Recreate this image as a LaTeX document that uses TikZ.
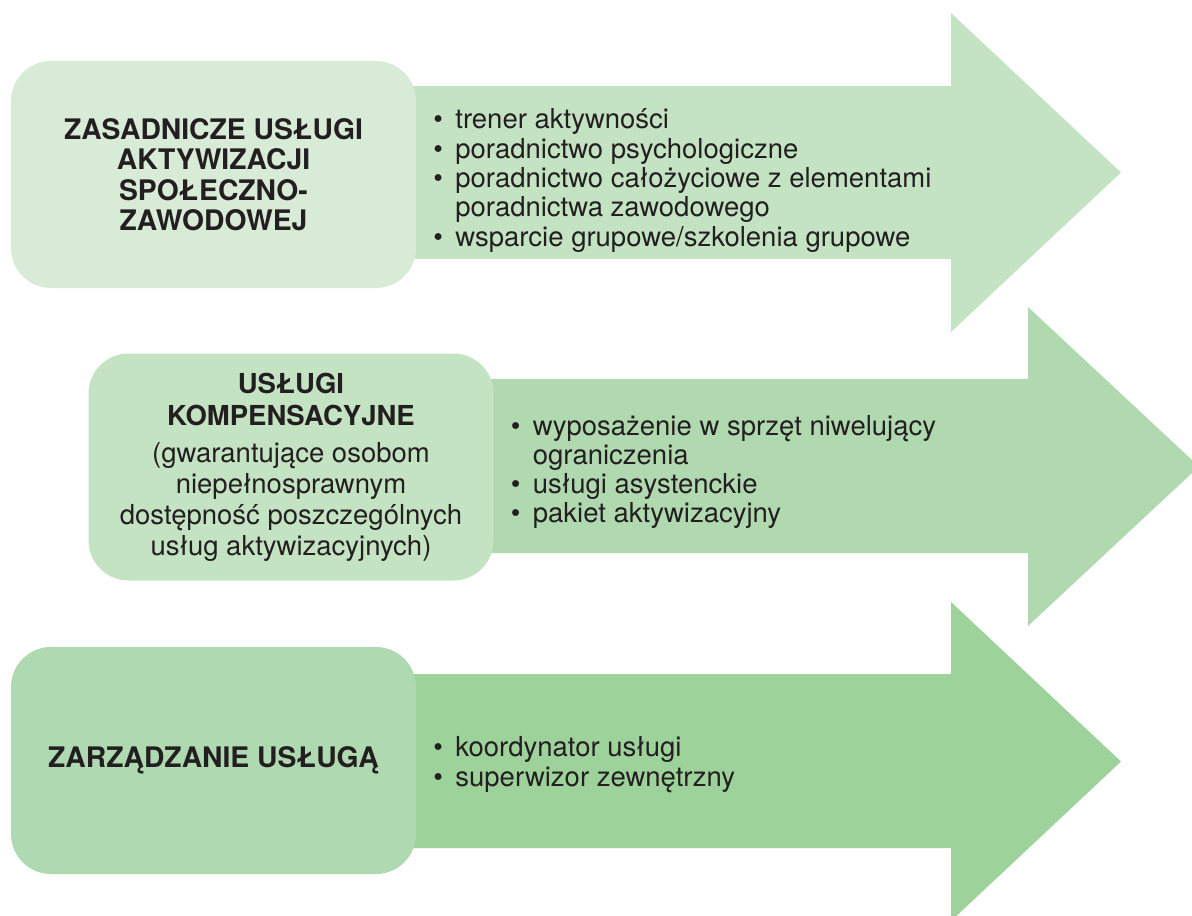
\documentclass[tikz,border=0pt]{standalone}
\usepackage{fontspec}
\setmainfont{TeX Gyre Heros}
\usetikzlibrary{positioning}

\definecolor{boxA}{HTML}{D7EBD6}
\definecolor{arrA}{HTML}{C4E3C3}
\definecolor{boxB}{HTML}{C4E3C2}
\definecolor{arrB}{HTML}{B0D9B0}
\definecolor{boxC}{HTML}{AFD9B0}
\definecolor{arrC}{HTML}{9DD29B}
\definecolor{ink}{HTML}{231F20}

\newcommand{\itm}{\makebox[22pt][l]{\textbullet}}
\newcommand{\cnt}{\hspace*{22pt}}

\begin{document}
\begin{tikzpicture}[
    x=1pt, y=-1pt,
    font=\fontsize{27.5}{29.3}\selectfont,
    text=ink,
    node distance = 17pt,
    greenbox/.style = {
        rectangle, draw=none, rounded corners=40pt,
        minimum width=405pt, minimum height=227pt,
        align=center, inner sep=0pt
    },
    title/.style = {font=\fontsize{28.3}{30.5}\selectfont\bfseries},
    list/.style = {align=left, inner sep=0pt}
]
\clip (0,0) rectangle (1192,916);

% ---- Arrows ----
\fill[arrA] (400,86) -- (951,86) -- (951,13) -- (1121,172.5)
    -- (951,332) -- (951,259) -- (400,259) -- cycle;
\fill[arrB] (480,379) -- (1028,379) -- (1028,307) -- (1199,466.5)
    -- (1028,626) -- (1028,553) -- (480,553) -- cycle;
\fill[arrC] (400,674) -- (951,674) -- (951,602) -- (1121,761.5)
    -- (951,921) -- (951,848) -- (400,848) -- cycle;

% ---- Boxes ----
\node[greenbox, title, fill=boxA, yshift=-1pt] (zasad) at (213.5,173.5)
    {ZASADNICZE USŁUGI\\AKTYWIZACJI\\SPOŁECZNO-\\ZAWODOWEJ};
\node[greenbox, fill=boxB, font=\fontsize{27.5}{31}\selectfont, yshift=-1pt] (kompens) at (291,466)
    {\textbf{USŁUGI}\\[1pt]\textbf{KOMPENSACYJNE}\\[6pt](gwarantujące osobom\\niepełnosprawnym\\dostępność poszczególnych\\usług aktywizacyjnych)};
\node[greenbox, title, fill=boxC, yshift=-1pt] (zarzad) at (213.5,759.5)
    {ZARZĄDZANIE USŁUGĄ};

% ---- Lists ----
\node[list, right=of zasad, yshift=-6pt] (listA)
    {\itm trener aktywności\\\itm poradnictwo psychologiczne\\\itm poradnictwo całożyciowe z elementami\\\cnt poradnictwa zawodowego\\\itm wsparcie grupowe/szkolenia grupowe};
\node[list, right=of kompens, yshift=-5pt] (listB)
    {\itm wyposażenie w sprzęt niwelujący\\\cnt ograniczenia\\\itm usługi asystenckie\\\itm pakiet aktywizacyjny};
\node[list, right=of zarzad, yshift=-4pt] (listC)
    {\itm koordynator usługi\\\itm superwizor zewnętrzny};

\end{tikzpicture}
\end{document}
